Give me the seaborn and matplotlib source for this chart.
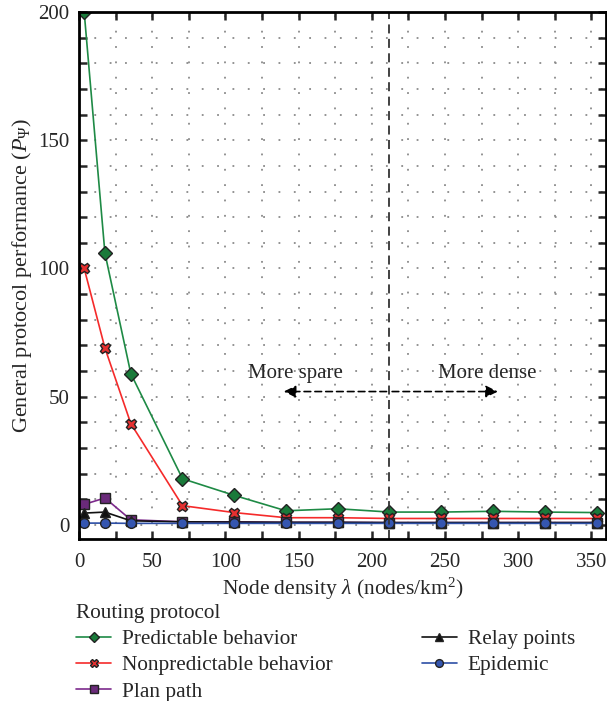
import numpy as np
import pandas as pd
import matplotlib
matplotlib.use("Agg")
import matplotlib.pyplot as plt
import seaborn as sns
from matplotlib.ticker import MultipleLocator

sns.set_theme(style="ticks")
plt.rcParams['font.family'] = ['Liberation Serif', 'DejaVu Serif']
plt.rcParams['mathtext.fontset'] = 'custom'
plt.rcParams['mathtext.rm'] = 'Liberation Serif'
plt.rcParams['mathtext.it'] = 'Liberation Serif:italic'

density = [3.54, 17.7, 35.4, 70.7, 106.1, 141.4, 176.8, 212.1, 247.5, 282.8, 318.2, 353.6]
predictable = [200, 106, 59, 18, 11.5, 5.5, 6.3, 5.0, 5.0, 5.3, 5.0, 4.8]
nonpredictable = [100, 69, 39.5, 7.5, 4.8, 2.8, 2.8, 2.5, 2.5, 2.5, 2.5, 2.5]
plan_path = [8, 10.5, 2.0, 1.2, 1.2, 1.0, 1.0, 0.9, 0.9, 0.9, 0.9, 0.9]
relay_points = [4.6, 5.0, 1.6, 1.2, 1.1, 1.0, 1.0, 0.9, 0.9, 0.9, 0.9, 0.9]
epidemic = [0.7, 0.7, 0.6, 0.6, 0.6, 0.6, 0.6, 0.6, 0.6, 0.6, 0.6, 0.6]

series = [
    ("Predictable behavior", predictable, "D", "#1e8a45", "#1a7a3a", 7),
    ("Nonpredictable behavior", nonpredictable, "X", "#f52a2a", "#e53030", 7.5),
    ("Plan path", plan_path, "s", "#7d2a8c", "#6a2a7a", 6.5),
    ("Relay points", relay_points, "^", "#111111", "#111111", 7),
    ("Epidemic", epidemic, "o", "#2d4fa6", "#3556b0", 7),
]

fig = plt.figure(figsize=(6.07, 7.01), dpi=100)
ax = fig.add_axes([79/607, 1-539/701, (606-79)/607, (539-12)/701])

for name, vals, mk, lc, fc, ms in series:
    df = pd.DataFrame({"x": density, "y": vals})
    sns.lineplot(data=df, x="x", y="y", ax=ax, color=lc, marker=mk, markersize=ms,
                 markerfacecolor=fc, markeredgecolor="#222222", markeredgewidth=1.0,
                 linewidth=1.2, label=name, clip_on=True)

ax.set_xlim(0, 360)
ax.set_ylim(-5.5, 200)
ax.xaxis.set_major_locator(MultipleLocator(50))
ax.xaxis.set_minor_locator(MultipleLocator(25))
ax.yaxis.set_major_locator(MultipleLocator(50))
ax.yaxis.set_minor_locator(MultipleLocator(10))
ax.tick_params(which='both', direction='in', top=True, right=True, width=1.8, labelsize=15, pad=7)
ax.tick_params(axis='x', which='both', pad=10)
ax.tick_params(which='major', length=6)
ax.tick_params(which='minor', length=6)
ax.grid(which='both', linestyle=(0, (1, 7.5)), color='#8a8a8a', linewidth=1.3)
for s in ax.spines.values():
    s.set_linewidth(2.0)
    s.set_color('black')

ax.set_xlabel(r"Node density $\lambda$ (nodes/km$^2$)", fontsize=15.5, labelpad=3)
ax.set_ylabel(r"General protocol performance ($P_\Psi$)", fontsize=16, labelpad=3)

ax.axvline(212, color='#333333', linestyle=(0, (5, 3)), linewidth=1.3)
ax.annotate("", xy=(138, 52), xytext=(212, 52),
            arrowprops=dict(arrowstyle='-|>', linestyle=(0, (4, 2.5)), color='black', lw=1.2, mutation_scale=18))
ax.annotate("", xy=(288, 52), xytext=(212, 52),
            arrowprops=dict(arrowstyle='-|>', linestyle=(0, (4, 2.5)), color='black', lw=1.2, mutation_scale=18))
ax.text(148, 59, "More spare", ha='center', va='center', fontsize=15)
ax.text(279, 59, "More dense", ha='center', va='center', fontsize=15)

leg = ax.legend(loc='upper left', bbox_to_anchor=(-0.005, -0.123), ncol=2, frameon=False,
                title="Routing protocol", fontsize=15.3, title_fontsize=15.3, markerscale=0.8,
                handlelength=1.65, handletextpad=0.5, columnspacing=4.2, labelspacing=0.3,
                borderaxespad=0, borderpad=0)
leg._legend_box.align = "left"

fig.savefig("out.png", dpi=100)
